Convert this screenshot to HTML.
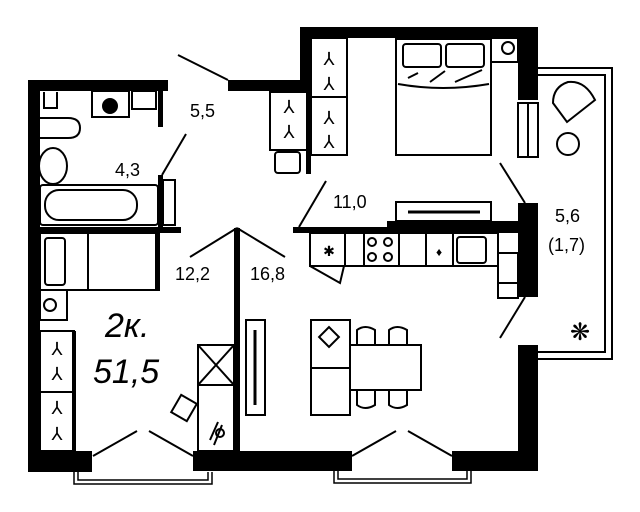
<!DOCTYPE html>
<html><head><meta charset="utf-8"><style>
html,body{margin:0;padding:0;background:#fff;}
svg{display:block;}
text{font-family:"Liberation Sans",sans-serif;fill:#000;}
</style></head><body>
<svg width="640" height="512" viewBox="0 0 640 512" xmlns="http://www.w3.org/2000/svg">
<rect width="640" height="512" fill="#fff"/>
<g fill="#000">
<!-- outer walls -->
<rect x="28" y="80" width="140" height="11"/>
<rect x="28" y="80" width="12" height="392"/>
<rect x="158" y="91" width="5" height="36"/>
<rect x="228" y="80" width="72" height="11"/>
<rect x="300" y="27" width="238" height="11"/>
<rect x="300" y="27" width="11" height="65"/>
<rect x="306" y="92" width="5" height="82"/>
<rect x="518" y="27" width="20" height="73"/>
<rect x="518" y="203" width="20" height="94"/>
<rect x="518" y="345" width="20" height="126"/>
<rect x="28" y="451" width="64" height="21"/>
<rect x="193" y="451" width="159" height="20"/>
<rect x="452" y="451" width="86" height="20"/>
<!-- interior -->
<rect x="40" y="227" width="141" height="6"/>
<rect x="158" y="175" width="5" height="58"/>
<rect x="234" y="228" width="6" height="223"/>
<rect x="293" y="227" width="225" height="6"/>
<rect x="387" y="221" width="131" height="8"/>
<rect x="155" y="233" width="5" height="58"/>
<rect x="72" y="331" width="4" height="120"/>
</g>
<g fill="none" stroke="#000" stroke-width="2">
<!-- windows -->
<path d="M74 472 V484 H212 V472 M78 472 V480 H208 V472" stroke-width="1.5"/>
<path d="M334 471 V483 H471 V471 M338 471 V479 H467 V471" stroke-width="1.5"/>
<!-- balcony -->
<path d="M538 68 H612 V359 H538 M538 75 H605 V352 H538" stroke-width="2"/>
<!-- doors -->
<path d="M178 55 L228 80"/>
<path d="M186 134 L162 175"/>
<path d="M237 228 L190 257 M237 228 L285 257"/>
<path d="M326 181 L299 227"/>
<path d="M500 163 L525 203"/>
<path d="M525 297 L500 338"/>
<path d="M93 456 L137 431 M149 431 L193 456"/>
<path d="M352 456 L396 431 M408 431 L452 456"/>
<!-- bedroom wardrobe -->
<rect x="311" y="38" width="36" height="117"/>
<line x1="311" y1="97" x2="347" y2="97"/>
<!-- hall wardrobe -->
<rect x="270" y="92" width="37" height="58"/>
<rect x="275" y="152" width="25" height="21" rx="3"/>
<!-- bed -->
<rect x="396" y="39" width="95" height="116"/>
<rect x="403" y="44" width="38" height="23" rx="3"/>
<rect x="446" y="44" width="38" height="23" rx="3"/>
<path d="M398 84 Q443 92 489 84"/>
<path d="M408 78 L418 73 M430 82 L445 71 M455 82 L482 70"/>
<rect x="491" y="38" width="27" height="24"/>
<circle cx="508" cy="48" r="6"/>
<!-- radiator -->
<rect x="518" y="103" width="20" height="54"/>
<line x1="528" y1="103" x2="528" y2="157"/>
<!-- balcony chair/table -->
<path d="M567 122 L595 100 Q585 80 568 82 Q553 87 553 103 Z"/>
<circle cx="568" cy="144" r="11"/>
<!-- hood -->
<rect x="396" y="202" width="95" height="19"/>
<line x1="408" y1="212" x2="480" y2="212" stroke-width="3"/>
<!-- kitchen -->
<rect x="310" y="233" width="188" height="33"/>
<line x1="345" y1="233" x2="345" y2="266"/>
<line x1="364" y1="233" x2="364" y2="266"/>
<line x1="399" y1="233" x2="399" y2="266"/>
<line x1="426" y1="233" x2="426" y2="266"/>
<line x1="453" y1="233" x2="453" y2="266"/>
<rect x="457" y="237" width="29" height="26" rx="3"/>
<circle cx="372" cy="242" r="4"/><circle cx="388" cy="242" r="4"/>
<circle cx="372" cy="257" r="4"/><circle cx="388" cy="257" r="4"/>
<path d="M310 266 L340 283 L344 266"/>
<rect x="498" y="253" width="20" height="45"/>
<line x1="498" y1="283" x2="518" y2="283"/>
<!-- living -->
<rect x="311" y="320" width="39" height="95"/>
<line x1="311" y1="368" x2="350" y2="368"/>
<rect x="350" y="345" width="71" height="45"/>
<path d="M357 345 V330 Q365 324 375 330 V345 M389 345 V330 Q397 324 407 330 V345"/>
<path d="M357 390 V405 Q365 411 375 405 V390 M389 390 V405 Q397 411 407 405 V390"/>
<rect x="322" y="330" width="14" height="14" transform="rotate(45 329 337)"/>
<rect x="246" y="320" width="19" height="95"/>
<line x1="255" y1="330" x2="255" y2="405" stroke-width="3"/>
<!-- left room -->
<rect x="198" y="345" width="36" height="40"/>
<path d="M198 345 L234 385 M234 345 L198 385"/>
<rect x="198" y="385" width="36" height="66"/>
<rect x="175" y="398" width="18" height="20" transform="rotate(30 184 408)"/>
<path d="M210 440 L218 422 M214 445 L222 425"/>
<circle cx="220" cy="433" r="4"/>
<rect x="40" y="331" width="34" height="120"/>
<line x1="40" y1="392" x2="74" y2="392"/>
<!-- small bedroom bed -->
<rect x="40" y="233" width="117" height="57"/>
<rect x="45" y="238" width="20" height="47" rx="3"/>
<line x1="88" y1="233" x2="88" y2="290"/>
<rect x="40" y="290" width="27" height="30"/>
<circle cx="50" cy="305" r="6"/>
<!-- bathroom -->
<rect x="40" y="185" width="118" height="40" rx="3"/>
<rect x="45" y="190" width="92" height="30" rx="14"/>
<ellipse cx="53" cy="166" rx="14" ry="18"/>
<path d="M40 118 H68 Q80 118 80 128 Q80 138 68 138 H40"/>
<rect x="92" y="91" width="37" height="26"/>
<circle cx="110" cy="106" r="7" fill="#000"/>
<rect x="132" y="91" width="24" height="18"/>
<path d="M44 92 V108 H57 V92"/>
<rect x="163" y="180" width="12" height="45"/>
</g>
<!-- hangers -->
<g font-size="18" text-anchor="middle">
<text x="329" y="65">⅄</text><text x="329" y="90">⅄</text>
<text x="329" y="124">⅄</text><text x="329" y="148">⅄</text>
<text x="289" y="113">⅄</text><text x="289" y="138">⅄</text>
<text x="57" y="355">⅄</text><text x="57" y="380">⅄</text>
<text x="57" y="414">⅄</text><text x="57" y="440">⅄</text>
</g>
<text x="329" y="256" font-size="14" text-anchor="middle">✱</text>
<text x="439" y="256" font-size="12" text-anchor="middle">♦</text>
<text x="580" y="340" font-size="24" text-anchor="middle">❋</text>
<!-- labels -->
<g font-size="18">
<text x="190" y="117">5,5</text>
<text x="115" y="176">4,3</text>
<text x="333" y="208">11,0</text>
<text x="175" y="280">12,2</text>
<text x="250" y="280">16,8</text>
<text x="555" y="222">5,6</text>
<text x="548" y="251">(1,7)</text>
</g>
<text x="105" y="337" font-size="34" font-style="italic">2к.</text>
<text x="93" y="383" font-size="34" font-style="italic">51,5</text>
</svg>
</body></html>
